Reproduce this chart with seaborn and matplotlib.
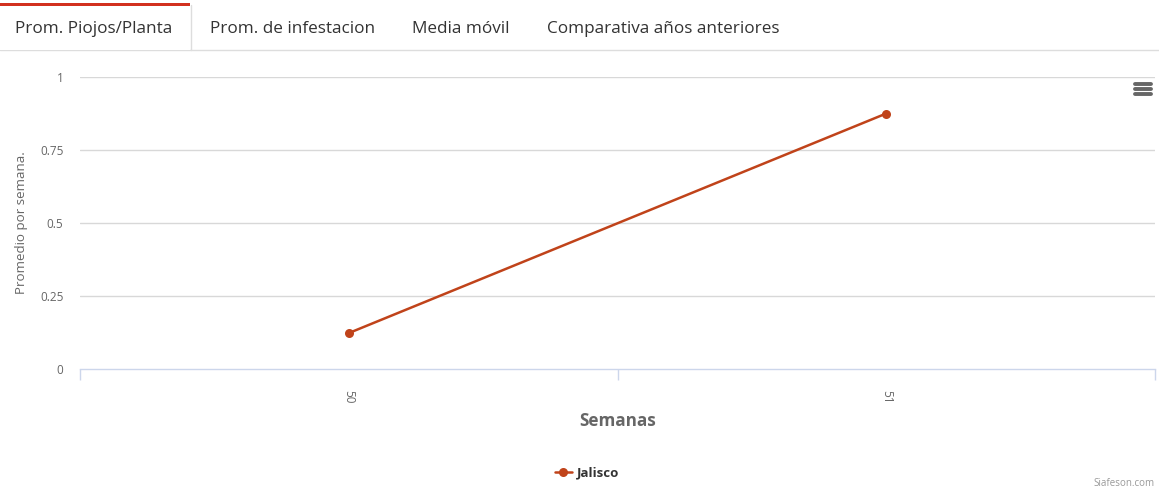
import numpy as np
import matplotlib
matplotlib.use("Agg")
import matplotlib.pyplot as plt
import matplotlib.patches as mpatches
from matplotlib.lines import Line2D
import pandas as pd
import seaborn as sns

# data
semanas = ["50", "51"]
promedio = [0.123, 0.875]
serie = "Jalisco"
tabs = ["Prom. Piojos/Planta", "Prom. de infestacion", "Media móvil", "Comparativa años anteriores"]
y_ticks = [0, 0.25, 0.5, 0.75, 1]
y_tick_labels = ["0", "0.25", "0.5", "0.75", "1"]

line_color = "#c0431a"
text_gray = "#666666"

df = pd.DataFrame({"Semana": semanas, "Promedio": promedio, "Estado": serie})

sns.set_style("white")
plt.rcParams["font.family"] = ["Open Sans", "DejaVu Sans"]

fig = plt.figure(figsize=(11.59, 4.91), dpi=100)
ax = fig.add_axes([80 / 1159, 1 - 369 / 491, 1075 / 1159, 292 / 491])

sns.lineplot(data=df, x="Semana", y="Promedio", color=line_color, linewidth=1.8,
             marker="o", markersize=6.5, markeredgewidth=0, ax=ax, legend=False)

ax.set_xlim(-0.5, 1.5)
ax.set_ylim(0, 1)
ax.set_yticks(y_ticks)
ax.set_yticklabels(y_tick_labels)
ax.tick_params(axis="y", left=False, length=0, pad=12, labelsize=8.5, labelcolor=text_gray)
ax.set_xticks([0, 1])
ax.set_xticklabels(semanas, rotation=-90)
ax.set_xticks([-0.5, 0.5, 1.5], minor=True)
ax.tick_params(axis="x", which="major", bottom=False, length=0, pad=15, labelsize=8.5,
               labelcolor=text_gray)
ax.tick_params(axis="x", which="minor", bottom=True, direction="out", length=8,
               color="#ccd6eb", width=1)
for yv in y_ticks[1:]:
    ax.axhline(yv, color="#d8d8d8", linewidth=1, zorder=0)
for side in ["top", "right", "left"]:
    ax.spines[side].set_visible(False)
ax.spines["bottom"].set_color("#ccd6eb")
ax.spines["bottom"].set_linewidth(1)

ax.set_xlabel("")
ax.set_ylabel("")
fig.text(22 / 1159, 1 - 223 / 491, "Promedio por semana.", rotation=90, ha="center", va="center",
         fontsize=9.6, color=text_gray)
fig.text(618 / 1159, 1 - 421 / 491, "Semanas", ha="center", va="center", fontsize=12.3,
         fontweight="bold", color=text_gray)

# legend
legend_handle = Line2D([], [], color=line_color, linewidth=1.8, marker="o", markersize=6.5,
                       markeredgewidth=0)
leg = fig.legend([legend_handle], [serie], loc="center", bbox_to_anchor=(587 / 1159, 1 - 473 / 491),
                 frameon=False, handlelength=1.3, handletextpad=0.4,
                 prop={"weight": "bold", "size": 9.5})
for t in leg.get_texts():
    t.set_color("#333333")

# credits
fig.text(1155 / 1159, 1 - 489 / 491, "Siafeson.com", ha="right", va="bottom", fontsize=7,
         color="#999999")

# hamburger menu
for yy in [84, 89, 94]:
    fig.add_artist(Line2D([1135 / 1159, 1151 / 1159], [1 - yy / 491] * 2, color="#666666",
                          linewidth=2.8, solid_capstyle="round"))

# tabs
fig.add_artist(Line2D([0, 1], [1 - 49.5 / 491] * 2, color="#dddddd", linewidth=1))
fig.add_artist(mpatches.Rectangle((0, 1 - 50 / 491), 190 / 1159, 46 / 491,
                                  transform=fig.transFigure, facecolor="white",
                                  edgecolor="none", zorder=3))
fig.add_artist(Line2D([190.5 / 1159] * 2, [1 - 50 / 491, 1 - 5 / 491], color="#dddddd",
                      linewidth=1, zorder=4))
fig.add_artist(mpatches.Rectangle((0, 1 - 6 / 491), 190 / 1159, 3 / 491,
                                  transform=fig.transFigure, facecolor="#d2311f",
                                  edgecolor="none", zorder=4))
tab_x = [15, 210, 412, 547]
for tx, label in zip(tab_x, tabs):
    fig.text(tx / 1159, 1 - 29 / 491, label, ha="left", va="center", fontsize=12.3,
             color="#333333", zorder=5)

fig.savefig("out.png", dpi=100, facecolor="white")
